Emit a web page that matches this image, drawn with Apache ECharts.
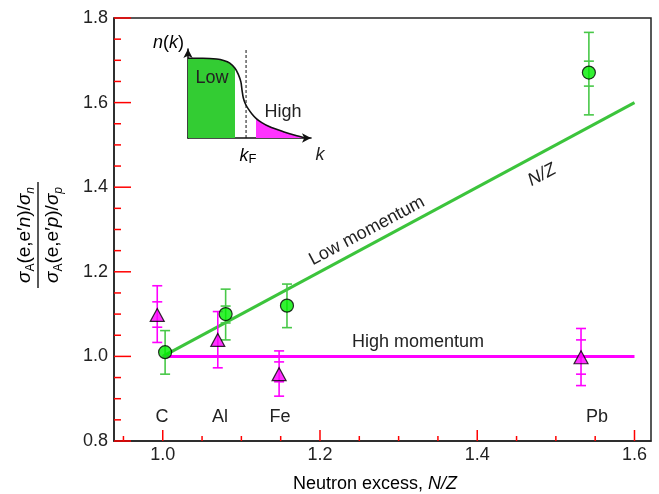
<!DOCTYPE html>
<html><head><meta charset="utf-8">
<script src="https://cdn.jsdelivr.net/npm/echarts@6/dist/echarts.min.js"></script>
<style>html,body{margin:0;padding:0;background:#fff}#c{width:659px;height:494px}</style>
</head><body><div id="c"></div>
<script>
// ---- data ----
const elements = ['C', 'Al', 'Fe', 'Pb'];
const lowX = [1.003, 1.080, 1.158, 1.542];
const lowY = [1.010, 1.100, 1.120, 1.671];
const lowErrLo = [0.958, 1.039, 1.068, 1.571];
const lowErrHi = [1.061, 1.159, 1.171, 1.766];
const lowStatLo = [null, 1.079, null, 1.639];
const lowStatHi = [null, 1.119, null, 1.698];
const highX = [0.993, 1.070, 1.148, 1.532];
const highY = [1.098, 1.039, 0.958, 0.998];
const highErrLo = [1.033, 0.973, 0.906, 0.931];
const highErrHi = [1.167, 1.106, 1.013, 1.066];
const highStatLo = [1.069, null, 0.940, 0.958];
const highStatHi = [1.129, null, 0.987, 1.039];
const lowFitX = [1.0, 1.6];
const lowFitY = [1.0, 1.6];
const highFitX = [1.0, 1.6];
const highFitY = [1.0, 1.0];
const xMajorTicks = [1.0, 1.2, 1.4, 1.6];
const xMinorTicks = [0.95, 1.05, 1.1, 1.15, 1.25, 1.3, 1.35, 1.45, 1.5, 1.55];
const xTickLabels = ['1.0', '1.2', '1.4', '1.6'];
const yMajorTicks = [0.8, 1.0, 1.2, 1.4, 1.6, 1.8];
const yMinorTicks = [0.85, 0.9, 0.95, 1.05, 1.1, 1.15, 1.25, 1.3, 1.35, 1.45, 1.5, 1.55, 1.65, 1.7, 1.75];
const yTickLabels = ['0.8', '1.0', '1.2', '1.4', '1.6', '1.8'];
const X_MIN = 0.938, X_MAX = 1.621, Y_MIN = 0.8, Y_MAX = 1.8;
// inset n(k) curve
const insetK = [0, 0.120, 0.233, 0.290, 0.340, 0.382, 0.409, 0.430, 0.440, 0.450, 0.466, 0.490, 0.520, 0.553, 0.600, 0.660, 0.775, 0.870, 0.951];
const insetN = [0.896, 0.896, 0.888, 0.872, 0.842, 0.783, 0.715, 0.630, 0.530, 0.450, 0.385, 0.327, 0.270, 0.221, 0.172, 0.128, 0.071, 0.030, 0];
const lowRegionEnd = 5;     // last index of low-momentum fill
const highRegionStart = 13; // first index of high-momentum fill
const kF = 0.472;
const kFTop = 1.0;

// ---- styles ----
const FONT = '"Liberation Sans", Arial, Helvetica, sans-serif';
const TXT = '#222';
const TICK = '#ff0000';
const GREEN_LINE = '#3cc43c';
const GREEN_ERR = '#48c848';
const GREEN_FILL = '#00ee00';
const MAG = '#ff00ff';

function pairs(xs, ys) { return xs.map((x, i) => [x, ys[i]]); }
function errData(xs, lo, hi) {
  const out = [];
  xs.forEach((x, i) => { if (lo[i] != null && hi[i] != null) out.push([x, lo[i], hi[i]]); });
  return out;
}
function errSeries(data, color, withStem) {
  return {
    type: 'custom', xAxisIndex: 0, yAxisIndex: 0, z: 3, clip: false,
    data: data,
    encode: { x: 0, y: [1, 2] },
    renderItem: function (params, api) {
      const x = api.value(0);
      const p1 = api.coord([x, api.value(1)]);
      const p2 = api.coord([x, api.value(2)]);
      const hw = 5;
      const st = { stroke: color, lineWidth: 1.6 };
      const ch = [
        { type: 'line', shape: { x1: p1[0] - hw, y1: p1[1], x2: p1[0] + hw, y2: p1[1] }, style: st },
        { type: 'line', shape: { x1: p2[0] - hw, y1: p2[1], x2: p2[0] + hw, y2: p2[1] }, style: st }
      ];
      if (withStem) ch.push({ type: 'line', shape: { x1: p1[0], y1: p1[1], x2: p2[0], y2: p2[1] }, style: st });
      return { type: 'group', children: ch };
    }
  };
}
// inside axis ticks, placed through the axis scales
function tickSeries(values, dim, len) {
  return {
    type: 'custom', xAxisIndex: 0, yAxisIndex: 0, z: 8, clip: false,
    data: values.map(v => dim === 'x' ? [v, Y_MIN] : [X_MIN, v]),
    encode: { x: 0, y: 1 },
    renderItem: function (params, api) {
      const p = api.coord([api.value(0), api.value(1)]);
      const st = { stroke: TICK, lineWidth: 1.5 };
      const sh = dim === 'x'
        ? { x1: p[0], y1: p[1], x2: p[0], y2: p[1] - len }
        : { x1: p[0], y1: p[1], x2: p[0] + len, y2: p[1] };
      return { type: 'group', children: [{ type: 'line', shape: sh, style: st }] };
    }
  };
}

const chart = echarts.init(document.getElementById('c'), null, { renderer: 'canvas' });

const richFrac = {
  r: { fontSize: 19, fontFamily: FONT, color: TXT, lineHeight: 24, verticalAlign: 'middle' },
  i: { fontSize: 19, fontFamily: FONT, color: TXT, fontStyle: 'italic', lineHeight: 24, verticalAlign: 'middle' },
  s: { fontSize: 12, fontFamily: FONT, color: TXT, lineHeight: 12, verticalAlign: 'bottom' },
  si: { fontSize: 12, fontFamily: FONT, color: TXT, fontStyle: 'italic', lineHeight: 12, verticalAlign: 'bottom' }
};
const richK = {
  i: { fontSize: 18, fontFamily: FONT, color: TXT, fontStyle: 'italic', lineHeight: 20, verticalAlign: 'middle' },
  r: { fontSize: 18, fontFamily: FONT, color: TXT, lineHeight: 20, verticalAlign: 'middle' },
  s: { fontSize: 13, fontFamily: FONT, color: TXT, lineHeight: 13, verticalAlign: 'bottom' }
};

function txt(x, y, text, extra) {
  return {
    type: 'text', x: x, y: y, z: 100,
    style: Object.assign({ text: text, fill: TXT, font: '18px ' + FONT, align: 'center', verticalAlign: 'middle' }, extra || {})
  };
}

const rot = 28 * Math.PI / 180;

const option = {
  animation: false,
  grid: [
    { left: 114, right: 8, top: 18, bottom: 53, show: true, borderColor: '#222', borderWidth: 1.5, backgroundColor: 'transparent' },
    { left: 188, top: 49, width: 123, height: 89, show: false }
  ],
  xAxis: [
    {
      type: 'value', gridIndex: 0, min: X_MIN, max: X_MAX, position: 'bottom',
      axisLine: { show: true, onZero: false, lineStyle: { color: '#222', width: 1.5 } },
      axisTick: { show: false },
      axisLabel: { show: true, customValues: xMajorTicks, margin: 5, fontSize: 18, fontFamily: FONT, color: TXT,
        formatter: function (v) { const i = xMajorTicks.findIndex(t => Math.abs(t - v) < 1e-6); return i >= 0 ? xTickLabels[i] : ''; } },
      splitLine: { show: false }
    },
    {
      type: 'value', gridIndex: 1, min: 0, max: 1,
      axisLine: { show: true, onZero: false, symbol: ['none', 'arrow'], symbolSize: [7, 9], lineStyle: { color: '#111', width: 1.6 } },
      axisTick: { show: false }, axisLabel: { show: false }, splitLine: { show: false }
    }
  ],
  yAxis: [
    {
      type: 'value', gridIndex: 0, min: Y_MIN, max: Y_MAX, position: 'left',
      axisLine: { show: true, onZero: false, lineStyle: { color: '#222', width: 1.5 } },
      axisTick: { show: false },
      axisLabel: { customValues: yMajorTicks, margin: 6, fontSize: 18, fontFamily: FONT, color: TXT,
        formatter: function (v) { const i = yMajorTicks.findIndex(t => Math.abs(t - v) < 1e-6); return i >= 0 ? yTickLabels[i] : ''; } },
      splitLine: { show: false }
    },
    {
      type: 'value', gridIndex: 1, min: 0, max: 1,
      axisLine: { show: true, onZero: false, symbol: ['none', 'arrow'], symbolSize: [7, 9], lineStyle: { color: '#111', width: 1.6 } },
      axisTick: { show: false }, axisLabel: { show: false }, splitLine: { show: false }
    }
  ],
  series: [
    // axis ticks (major + minor)
    tickSeries(xMajorTicks, 'x', 11),
    tickSeries(xMinorTicks, 'x', 5),
    tickSeries(yMajorTicks, 'y', 17),
    tickSeries(yMinorTicks, 'y', 7),
    // fit lines
    { type: 'line', xAxisIndex: 0, yAxisIndex: 0, data: pairs(lowFitX, lowFitY), symbol: 'none', z: 2,
      lineStyle: { color: GREEN_LINE, width: 3 } },
    { type: 'line', xAxisIndex: 0, yAxisIndex: 0, data: pairs(highFitX, highFitY), symbol: 'none', z: 2,
      lineStyle: { color: MAG, width: 3 } },
    // error bars
    errSeries(errData(lowX, lowErrLo, lowErrHi), GREEN_ERR, true),
    errSeries(errData(lowX, lowStatLo, lowStatHi), GREEN_ERR, false),
    errSeries(errData(highX, highErrLo, highErrHi), MAG, true),
    errSeries(errData(highX, highStatLo, highStatHi), MAG, false),
    // markers
    { type: 'scatter', xAxisIndex: 0, yAxisIndex: 0, data: pairs(highX, highY), symbol: 'triangle', symbolSize: [14, 13], z: 5,
      itemStyle: { color: MAG, borderColor: '#000', borderWidth: 1.2 } },
    { type: 'scatter', xAxisIndex: 0, yAxisIndex: 0, data: pairs(lowX, lowY), symbol: 'circle', symbolSize: 13, z: 6,
      itemStyle: { color: GREEN_FILL, borderColor: '#000', borderWidth: 1.2 } },
    // inset: fills
    { type: 'line', xAxisIndex: 1, yAxisIndex: 1, data: pairs(insetK, insetN).slice(0, lowRegionEnd + 1), symbol: 'none',
      smooth: 0.3, lineStyle: { width: 0 }, areaStyle: { color: '#33cc33', opacity: 1 }, z: 2 },
    { type: 'line', xAxisIndex: 1, yAxisIndex: 1, data: pairs(insetK, insetN).slice(highRegionStart), symbol: 'none',
      smooth: 0.3, lineStyle: { width: 0 }, areaStyle: { color: '#ff33ff', opacity: 1 }, z: 2 },
    // inset curve
    { type: 'line', xAxisIndex: 1, yAxisIndex: 1, data: pairs(insetK, insetN), symbol: 'none',
      smooth: 0.3, lineStyle: { color: '#111', width: 1.6 }, z: 3 },
    // kF dashed line
    { type: 'line', xAxisIndex: 1, yAxisIndex: 1, data: [[kF, 0], [kF, kFTop]], symbol: 'none', clip: false,
      lineStyle: { color: '#111', width: 1, type: [3, 2] }, z: 3 }
  ],
  graphic: [
    // y-axis title (fraction)
    { type: 'group', x: 38, y: 235, rotation: Math.PI / 2, z: 100, children: [
      { type: 'text', x: 0, y: -13, style: { text: '{i|σ}{s|A}{r|(e,e′}{i|n}{r|)/}{i|σ}{si|n}', rich: richFrac, align: 'center', verticalAlign: 'middle' } },
      { type: 'line', shape: { x1: -53, y1: 0, x2: 53, y2: 0 }, style: { stroke: TXT, lineWidth: 1.5 } },
      { type: 'text', x: 0, y: 15, style: { text: '{i|σ}{s|A}{r|(e,e′}{i|p}{r|)/}{i|σ}{si|p}', rich: richFrac, align: 'center', verticalAlign: 'middle' } }
    ] },
    // x-axis title
    { type: 'text', x: 375, y: 484, z: 100, style: { text: '{r|Neutron excess, }{i|N/Z}', rich: richK, align: 'center', verticalAlign: 'middle' } },
    // element labels
    txt(162, 417, elements[0]),
    txt(220, 417, elements[1]),
    txt(280, 417, elements[2]),
    txt(597, 417, elements[3]),
    // line annotations
    txt(418, 342, 'High momentum'),
    { type: 'text', x: 367, y: 231, rotation: rot, z: 100, style: { text: 'Low momentum', fill: TXT, font: '18px ' + FONT, align: 'center', verticalAlign: 'middle' } },
    { type: 'text', x: 542, y: 175, rotation: rot, z: 100, style: { text: 'N/Z', fill: TXT, font: 'italic 18px ' + FONT, align: 'center', verticalAlign: 'middle' } },
    // inset labels
    txt(212, 78, 'Low'),
    txt(283, 112, 'High'),
    { type: 'text', x: 184, y: 43, z: 100, style: { text: '{i|n}{r|(}{i|k}{r|)}', rich: richK, align: 'right', verticalAlign: 'middle' } },
    { type: 'text', x: 248, y: 156, z: 100, style: { text: '{i|k}{s|F}', rich: richK, align: 'center', verticalAlign: 'middle' } },
    { type: 'text', x: 320, y: 155, z: 100, style: { text: 'k', fill: TXT, font: 'italic 18px ' + FONT, align: 'center', verticalAlign: 'middle' } }
  ]
};
chart.setOption(option);
</script>
</body></html>
